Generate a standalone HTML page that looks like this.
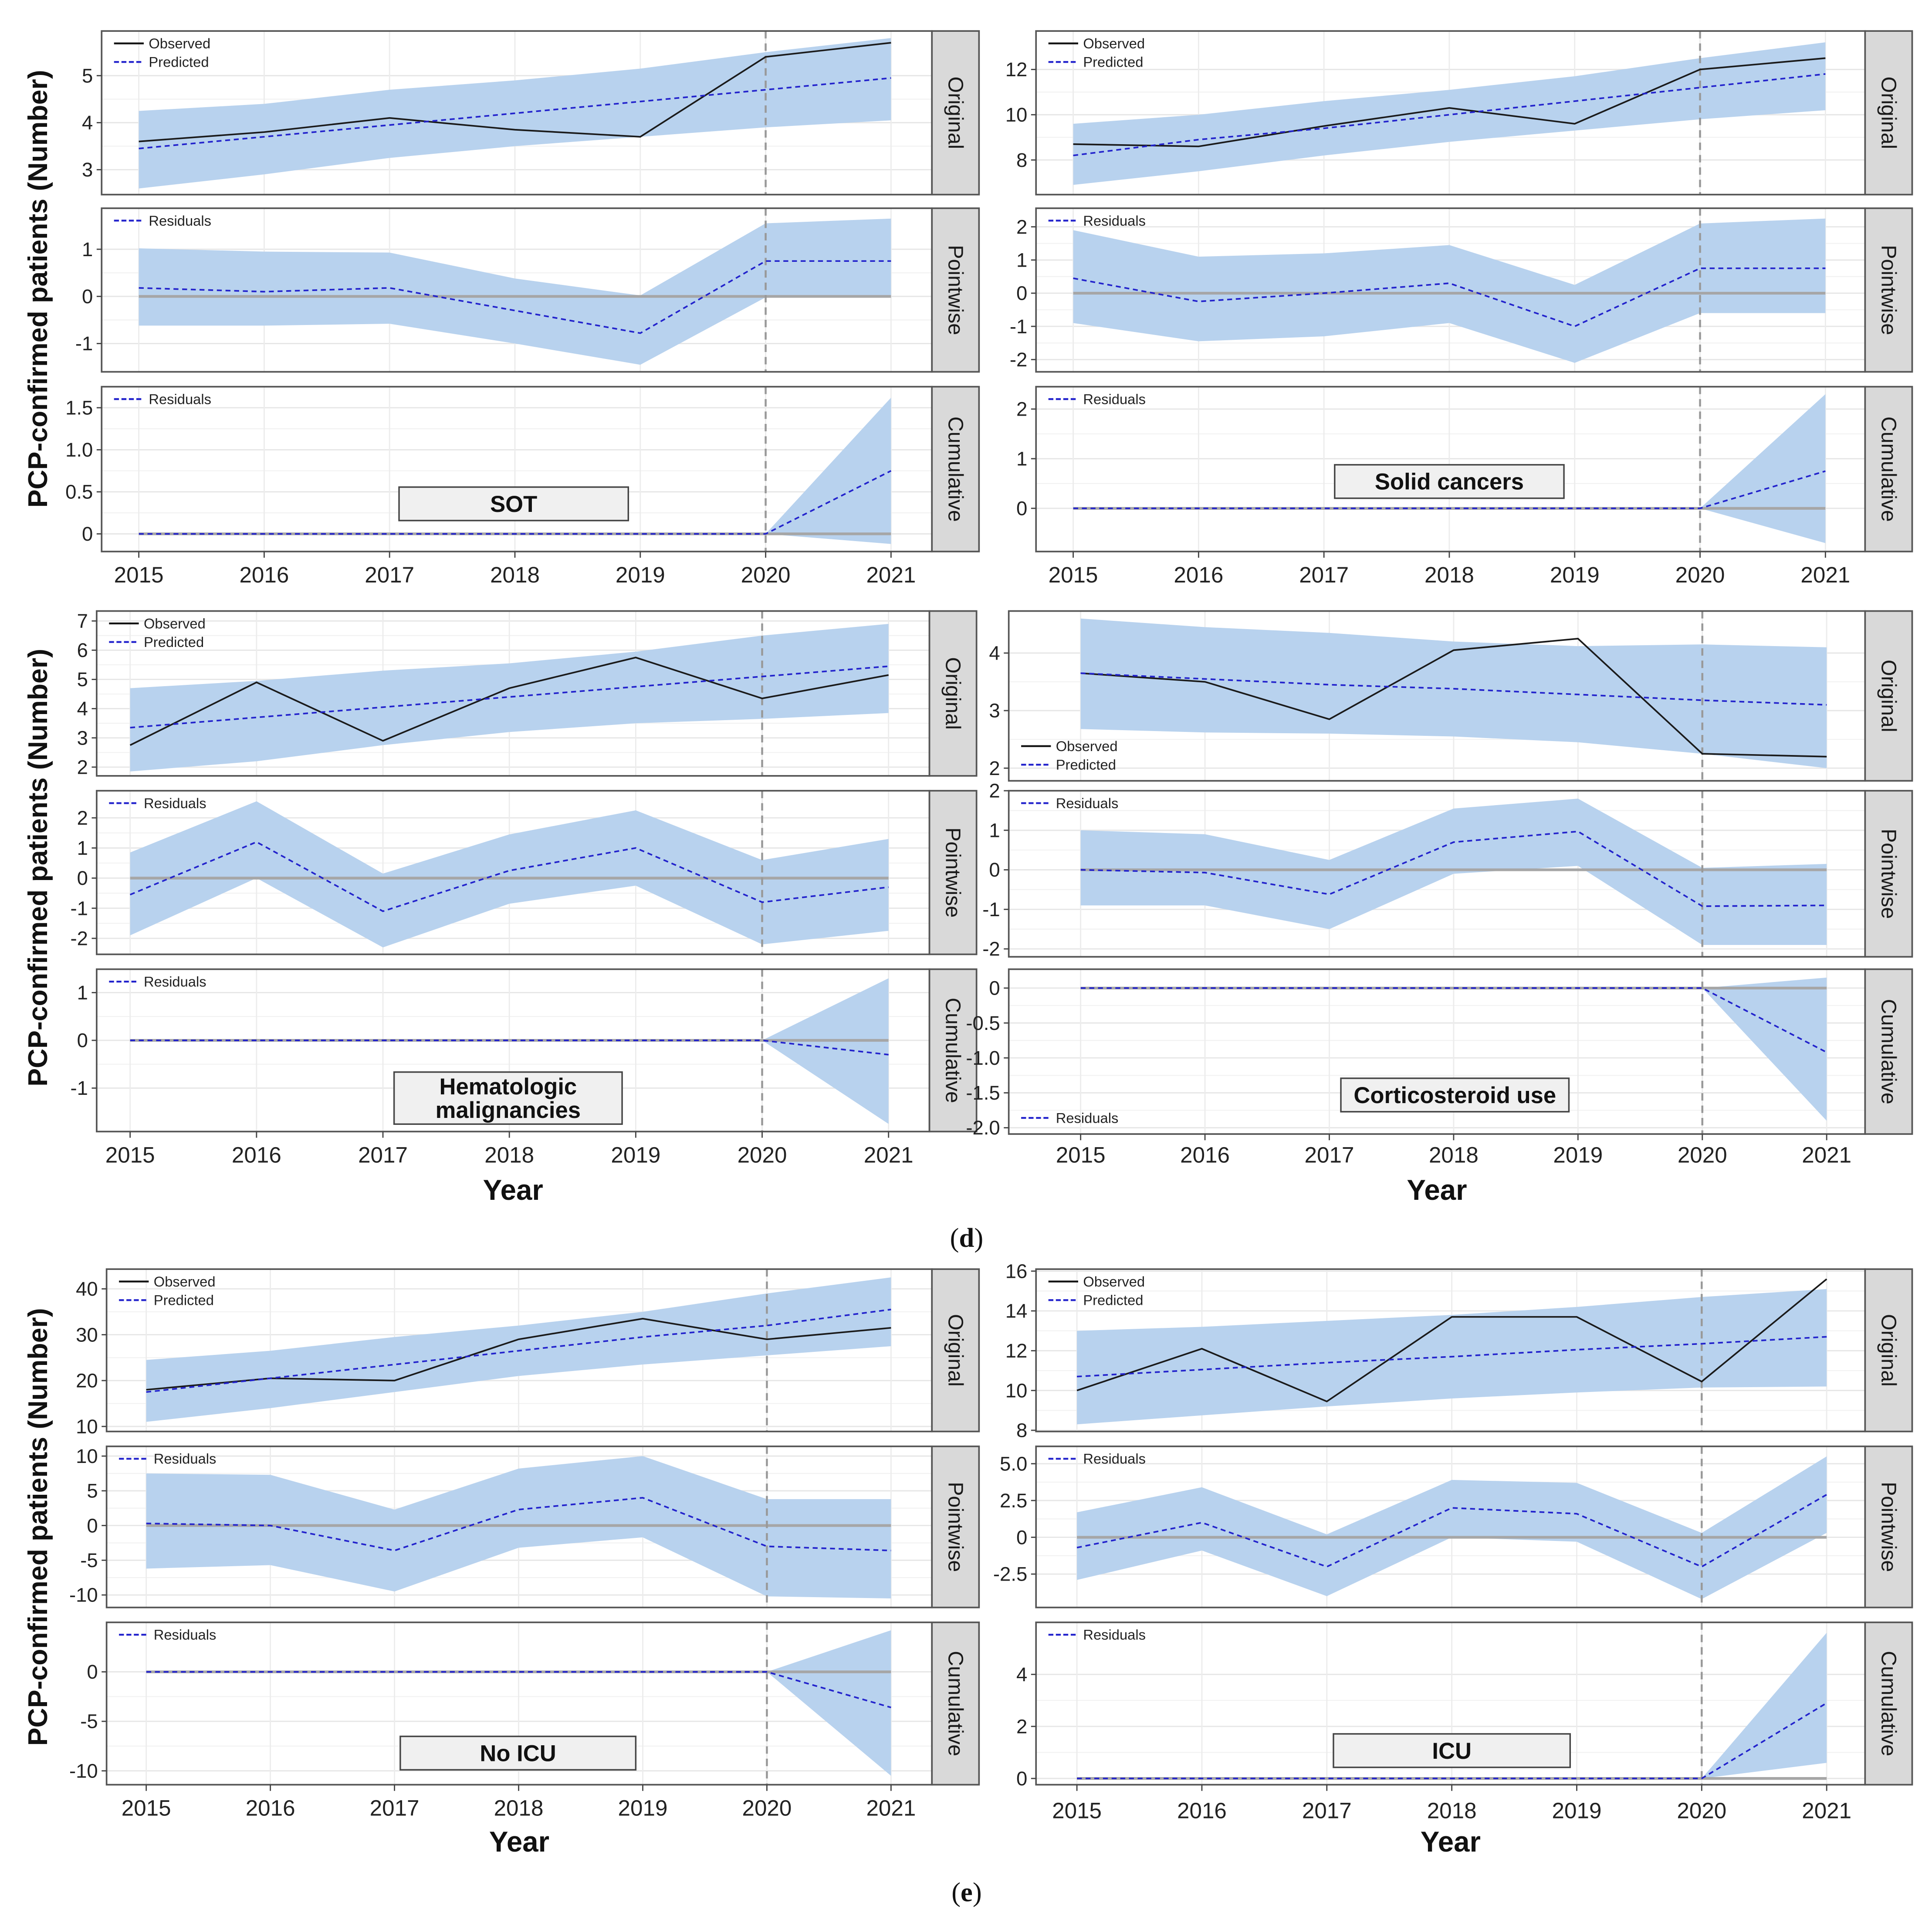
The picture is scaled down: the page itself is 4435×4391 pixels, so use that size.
<!DOCTYPE html>
<html><head><meta charset="utf-8"><style>
html,body{margin:0;padding:0;background:#fff}
svg{display:block}
</style></head><body>
<svg id="chart" xmlns="http://www.w3.org/2000/svg" width="4435" height="4391" viewBox="0 0 1559 1543.5">
<rect x="0" y="0" width="1559" height="1543.5" fill="#fff"/>
</svg>
<script>
const years = [2015,2016,2017,2018,2019,2020,2021];
// SOT
const sotObs = [3.6,3.8,4.1,3.85,3.7,5.4,5.7];
const sotPred = [3.45,3.7,3.95,4.2,4.45,4.7,4.95];
const sotLo = [2.6,2.9,3.25,3.5,3.7,3.9,4.05];
const sotHi = [4.25,4.4,4.7,4.9,5.15,5.5,5.8];
const sotPw = [0.18,0.1,0.18,-0.3,-0.78,0.75,0.75];
const sotPwLo = [-0.62,-0.62,-0.58,-1.0,-1.45,-0.02,-0.02];
const sotPwHi = [1.02,0.95,0.93,0.38,0.02,1.55,1.65];
const sotCu = [0,0,0,0,0,0,0.75];
const sotCuLo = [0,0,0,0,0,0,-0.12];
const sotCuHi = [0,0,0,0,0,0,1.62];
// Solid cancers
const solObs = [8.7,8.6,9.5,10.3,9.6,12.0,12.5];
const solPred = [8.2,8.9,9.4,10.0,10.6,11.2,11.8];
const solLo = [6.9,7.5,8.2,8.8,9.3,9.8,10.2];
const solHi = [9.6,10.0,10.6,11.1,11.7,12.5,13.2];
const solPw = [0.45,-0.25,0,0.3,-1.0,0.75,0.75];
const solPwLo = [-0.9,-1.45,-1.3,-0.9,-2.1,-0.6,-0.6];
const solPwHi = [1.9,1.1,1.2,1.45,0.25,2.1,2.25];
const solCu = [0,0,0,0,0,0,0.75];
const solCuLo = [0,0,0,0,0,0,-0.7];
const solCuHi = [0,0,0,0,0,0,2.3];
// Hematologic
const hemObs = [2.75,4.9,2.9,4.7,5.75,4.35,5.15];
const hemPred = [3.35,3.7,4.05,4.4,4.75,5.1,5.45];
const hemLo = [1.85,2.2,2.75,3.2,3.5,3.65,3.85];
const hemHi = [4.7,4.95,5.3,5.55,5.95,6.5,6.9];
const hemPw = [-0.55,1.2,-1.1,0.25,1.0,-0.8,-0.3];
const hemPwLo = [-1.9,0,-2.3,-0.85,-0.25,-2.2,-1.75];
const hemPwHi = [0.85,2.55,0.15,1.45,2.25,0.6,1.3];
const hemCu = [0,0,0,0,0,0,-0.3];
const hemCuLo = [0,0,0,0,0,0,-1.75];
const hemCuHi = [0,0,0,0,0,0,1.3];
// Corticosteroid
const corObs = [3.65,3.5,2.85,4.05,4.25,2.25,2.2];
const corPred = [3.65,3.55,3.45,3.38,3.28,3.18,3.1];
const corLo = [2.68,2.62,2.6,2.55,2.45,2.25,2.0];
const corHi = [4.6,4.45,4.35,4.2,4.12,4.15,4.1];
const corPw = [0,-0.07,-0.62,0.7,0.97,-0.92,-0.9];
const corPwLo = [-0.9,-0.9,-1.5,-0.1,0.1,-1.9,-1.9];
const corPwHi = [1.0,0.9,0.25,1.55,1.8,0.05,0.15];
const corCu = [0,0,0,0,0,0,-0.92];
const corCuLo = [0,0,0,0,0,0,-1.9];
const corCuHi = [0,0,0,0,0,0,0.15];
// No ICU
const nicObs = [18,20.5,20,29,33.5,29,31.5];
const nicPred = [17.5,20.5,23.5,26.5,29.5,32,35.5];
const nicLo = [11,14,17.5,21,23.5,25.5,27.5];
const nicHi = [24.5,26.5,29.5,32,35,39,42.5];
const nicPw = [0.3,0,-3.6,2.3,4.0,-3,-3.6];
const nicPwLo = [-6.2,-5.7,-9.5,-3.2,-1.7,-10.2,-10.5];
const nicPwHi = [7.5,7.3,2.3,8.2,10.0,3.8,3.8];
const nicCu = [0,0,0,0,0,0,-3.6];
const nicCuLo = [0,0,0,0,0,0,-10.5];
const nicCuHi = [0,0,0,0,0,0,4.2];
// ICU
const icuObs = [10,12.1,9.45,13.7,13.7,10.45,15.6];
const icuPred = [10.7,11.05,11.4,11.7,12.05,12.35,12.7];
const icuLo = [8.3,8.75,9.2,9.6,9.9,10.15,10.2];
const icuHi = [13,13.2,13.5,13.8,14.2,14.7,15.1];
const icuPw = [-0.7,1.0,-2.0,2.0,1.6,-2.0,2.9];
const icuPwLo = [-2.9,-0.9,-4.0,0,-0.3,-4.2,0.3];
const icuPwHi = [1.7,3.4,0.2,3.9,3.7,0.3,5.5];
const icuCu = [0,0,0,0,0,0,2.9];
const icuCuLo = [0,0,0,0,0,0,0.6];
const icuCuHi = [0,0,0,0,0,0,5.6];

const NS = "http://www.w3.org/2000/svg";
const svg = document.getElementById('chart');
function mk(tag, attrs, parent, text){
  const e = document.createElementNS(NS, tag);
  for (const k in attrs) e.setAttribute(k, attrs[k]);
  if (text !== undefined) e.textContent = text;
  (parent||svg).appendChild(e);
  return e;
}
const TF = '"Liberation Sans Narrow","Liberation Sans",sans-serif';

function panel(g, cfg, p){
  const X0 = cfg.x0, X1 = cfg.x1;
  const xs = v => cfg.x2015 + (v - 2015) * (cfg.x2021 - cfg.x2015) / 6;
  const ys = v => p.y1 - (v - p.min) / (p.max - p.min) * (p.y1 - p.y0);
  const pg = mk('g', {}, g);
  
  
  mk('rect', {x:X0, y:p.y0, width:X1-X0, height:p.y1-p.y0, fill:'#fff'}, pg);
  for (let i=0;i<p.ticks.length;i++){
    const t = p.ticks[i];
    mk('line',{x1:X0,x2:X1,y1:ys(t),y2:ys(t),stroke:'#e6e6e6','stroke-width':1},pg);
    if (i<p.ticks.length-1){
      const m=(t+p.ticks[i+1])/2;
      mk('line',{x1:X0,x2:X1,y1:ys(m),y2:ys(m),stroke:'#f2f2f2','stroke-width':0.8},pg);
    }
  }
  years.forEach(yr=>{
    mk('line',{x1:xs(yr),x2:xs(yr),y1:p.y0,y2:p.y1,stroke:'#ececec','stroke-width':1},pg);
  });
  let pts = [];
  years.forEach((yr,i)=>{ if (p.type!=='cum' || yr>=2020) pts.push(xs(yr)+','+ys(p.hi[i])); });
  for (let i=years.length-1;i>=0;i--){ if (p.type!=='cum' || years[i]>=2020) pts.push(xs(years[i])+','+ys(p.lo[i])); }
  const band = mk('polygon',{points:pts.join(' '),fill:'#b8d2ee'},pg);
  
  
  if (p.type!=='orig'){
    mk('line',{x1:xs(2015),x2:xs(2021),y1:ys(0),y2:ys(0),stroke:'#a6a6a6','stroke-width':2.2},pg);
  }
  const vl = mk('line',{x1:xs(2020),x2:xs(2020),y1:p.y0,y2:p.y1,stroke:'#999','stroke-width':1.6,'stroke-dasharray':'6,4'},pg);
  
  
  if (p.type==='orig'){
    const ob = mk('polyline',{points:years.map((yr,i)=>xs(yr)+','+ys(p.obs[i])).join(' '),fill:'none',stroke:'#1a1a1a','stroke-width':1.3},pg);
    
    
    const pr = mk('polyline',{points:years.map((yr,i)=>xs(yr)+','+ys(p.pred[i])).join(' '),fill:'none',stroke:'#2222cc','stroke-width':1.3,'stroke-dasharray':'4,3'},pg);
    
    
  } else {
    const rl = mk('polyline',{points:years.map((yr,i)=>xs(yr)+','+ys(p.res[i])).join(' '),fill:'none',stroke:'#2222cc','stroke-width':1.3,'stroke-dasharray':'4,3'},pg);
    
    
  }
  mk('rect',{x:X0,y:p.y0,width:X1-X0,height:p.y1-p.y0,fill:'none',stroke:'#555','stroke-width':1.3},pg);
  const st = mk('g',{},pg);
  
  
  mk('rect',{x:X1,y:p.y0,width:38,height:p.y1-p.y0,fill:'#d9d9d9',stroke:'#555','stroke-width':1.3},st);
  const cx = X1+19, cy=(p.y0+p.y1)/2;
  mk('text',{x:cx,y:cy,transform:`rotate(90 ${cx} ${cy})`,'text-anchor':'middle','dominant-baseline':'central','font-size':17,'font-family':'"Liberation Sans",sans-serif',fill:'#1a1a1a'},st,p.strip);
  p.ticks.forEach((t,i)=>{
    mk('line',{x1:X0-4,x2:X0,y1:ys(t),y2:ys(t),stroke:'#444','stroke-width':1},pg);
    const tl = mk('text',{x:X0-7,y:ys(t)+5.5,'text-anchor':'end','font-size':16,'font-family':TF,fill:'#222'},pg,p.labels[i]);
    
    
  });
  const lg = mk('g',{},pg);
  
  
  const lx = X0+10;
  if (p.type==='orig'){
    const ly = p.legBottom ? p.y1-28 : p.y0+10;
    mk('line',{x1:lx,x2:lx+24,y1:ly,y2:ly,stroke:'#111','stroke-width':1.5},lg);
    mk('text',{x:lx+28,y:ly+4,'font-size':11.5,'font-family':TF,fill:'#222'},lg,'Observed');
    mk('line',{x1:lx,x2:lx+24,y1:ly+15,y2:ly+15,stroke:'#2222cc','stroke-width':1.5,'stroke-dasharray':'4,2'},lg);
    mk('text',{x:lx+28,y:ly+19,'font-size':11.5,'font-family':TF,fill:'#222'},lg,'Predicted');
  } else {
    const yy = p.legBottom ? p.y1-13 : p.y0+10;
    mk('line',{x1:lx,x2:lx+24,y1:yy,y2:yy,stroke:'#2222cc','stroke-width':1.5,'stroke-dasharray':'4,2'},lg);
    mk('text',{x:lx+28,y:yy+4,'font-size':11.5,'font-family':TF,fill:'#222'},lg,'Residuals');
  }
  return {xs, ys};
}

function group(cfg){
  const g = mk('g',{});
  
  
  let ax;
  cfg.panels.forEach(p=>{ ax = panel(g,cfg,p); });
  const last = cfg.panels[2];
  years.forEach(yr=>{
    mk('line',{x1:ax.xs(yr),x2:ax.xs(yr),y1:last.y1,y2:last.y1+5,stroke:'#444','stroke-width':1},g);
    const t = mk('text',{x:ax.xs(yr),y:cfg.xly,'text-anchor':'middle','font-size':18,'font-family':TF,fill:'#222'},g,String(yr));
    
    
  });
  const b = cfg.box;
  const bg = mk('g',{},g);
  
  
  mk('rect',{x:b[0],y:b[1],width:b[2]-b[0],height:b[3]-b[1],fill:'#f0f0f0',stroke:'#444','stroke-width':1.2},bg);
  const lines = cfg.label;
  const cy = (b[1]+b[3])/2;
  lines.forEach((s,i)=>{
    mk('text',{x:(b[0]+b[2])/2,y:cy+6.5+(i-(lines.length-1)/2)*19,'text-anchor':'middle','font-size':18.5,'font-weight':'bold','font-family':'"Liberation Sans",sans-serif',fill:'#111'},bg,s);
  });
  if (cfg.yearY){
    const yt = mk('text',{x:(cfg.x0+cfg.x1)/2,y:cfg.yearY,'text-anchor':'middle','font-size':23,'font-weight':'bold','font-family':'"Liberation Sans",sans-serif',fill:'#111'},g,'Year');
    
    
  }
}

function PO(y0,y1,min,max,ticks,labels,obs,pred,lo,hi,legBottom){
  return {y0,y1,min,max,ticks,labels,type:'orig',strip:'Original',obs,pred,lo,hi,legBottom:!!legBottom};
}
function PR(type,strip,y0,y1,min,max,ticks,labels,res,lo,hi,legBottom){
  return {y0,y1,min,max,ticks,labels,type,strip,res,lo,hi,legBottom:!!legBottom};
}

group({key:'sot',x0:82,x1:752,x2015:112,x2021:719,xly:470,label:['SOT'],box:[322,393,507,420],panels:[
  PO(25,157,2.47,5.95,[3,4,5],['3','4','5'],sotObs,sotPred,sotLo,sotHi),
  PR('pw','Pointwise',168,300,-1.6,1.87,[-1,0,1],['-1','0','1'],sotPw,sotPwLo,sotPwHi),
  PR('cum','Cumulative',312,445,-0.21,1.75,[0,0.5,1,1.5],['0','0.5','1.0','1.5'],sotCu,sotCuLo,sotCuHi)]});
group({key:'solid-cancers',x0:836,x1:1505,x2015:866,x2021:1473,xly:470,label:['Solid cancers'],box:[1077,375,1262,402],panels:[
  PO(25,157,6.47,13.7,[8,10,12],['8','10','12'],solObs,solPred,solLo,solHi),
  PR('pw','Pointwise',168,300,-2.37,2.56,[-2,-1,0,1,2],['-2','-1','0','1','2'],solPw,solPwLo,solPwHi),
  PR('cum','Cumulative',312,445,-0.87,2.45,[0,1,2],['0','1','2'],solCu,solCuLo,solCuHi)]});
group({key:'hematologic',x0:78,x1:750,x2015:105,x2021:717,xly:938,yearY:968,label:['Hematologic','malignancies'],box:[318,865,502,907],panels:[
  PO(493,626,1.7,7.34,[2,3,4,5,6,7],['2','3','4','5','6','7'],hemObs,hemPred,hemLo,hemHi),
  PR('pw','Pointwise',638,770,-2.53,2.9,[-2,-1,0,1,2],['-2','-1','0','1','2'],hemPw,hemPwLo,hemPwHi),
  PR('cum','Cumulative',782,913,-1.91,1.49,[-1,0,1],['-1','0','1'],hemCu,hemCuLo,hemCuHi)]});
group({key:'corticosteroid',x0:814,x1:1505,x2015:872,x2021:1474,xly:938,yearY:968,label:['Corticosteroid use'],box:[1082,870,1266,897],panels:[
  PO(493,630,1.78,4.73,[2,3,4],['2','3','4'],corObs,corPred,corLo,corHi,true),
  PR('pw','Pointwise',638,772,-2.2,2.0,[-2,-1,0,1,2],['-2','-1','0','1','2'],corPw,corPwLo,corPwHi),
  PR('cum','Cumulative',782,915,-2.09,0.27,[-2,-1.5,-1,-0.5,0],['-2.0','-1.5','-1.0','-0.5','0'],corCu,corCuLo,corCuHi,true)]});
group({key:'no-icu',x0:86,x1:752,x2015:118,x2021:719,xly:1465,yearY:1494,label:['No ICU'],box:[323,1401,513,1428],panels:[
  PO(1024,1155,8.9,44.3,[10,20,30,40],['10','20','30','40'],nicObs,nicPred,nicLo,nicHi),
  PR('pw','Pointwise',1167,1297,-11.8,11.4,[-10,-5,0,5,10],['-10','-5','0','5','10'],nicPw,nicPwLo,nicPwHi),
  PR('cum','Cumulative',1309,1440,-11.4,5.0,[-10,-5,0],['-10','-5','0'],nicCu,nicCuLo,nicCuHi)]});
group({key:'icu',x0:836,x1:1505,x2015:869,x2021:1474,xly:1467,yearY:1494,label:['ICU'],box:[1076,1399,1267,1426],panels:[
  PO(1024,1155,7.94,16.1,[8,10,12,14,16],['8','10','12','14','16'],icuObs,icuPred,icuLo,icuHi),
  PR('pw','Pointwise',1167,1297,-4.77,6.18,[-2.5,0,2.5,5],['-2.5','0','2.5','5.0'],icuPw,icuPwLo,icuPwHi),
  PR('cum','Cumulative',1309,1440,-0.24,6.0,[0,2,4],['0','2','4'],icuCu,icuCuLo,icuCuHi)]});

[233,700,1232].forEach(cy=>{
  const t = mk('text',{x:38,y:cy,transform:`rotate(-90 38 ${cy})`,'text-anchor':'middle','font-size':22,'font-weight':'bold','font-family':'"Liberation Sans",sans-serif',fill:'#111'},svg,'PCP-confirmed patients (Number)');
  
  
});
[['d',1006],['e',1534]].forEach(([s,y])=>{
  const t = mk('text',{x:780,y:y,'text-anchor':'middle','font-size':22,'font-family':'"Liberation Serif",serif',fill:'#111'},svg);
  mk('tspan',{},t,'(');
  mk('tspan',{'font-weight':'bold'},t,s);
  mk('tspan',{},t,')');
  
  
});
</script>
</body></html>
